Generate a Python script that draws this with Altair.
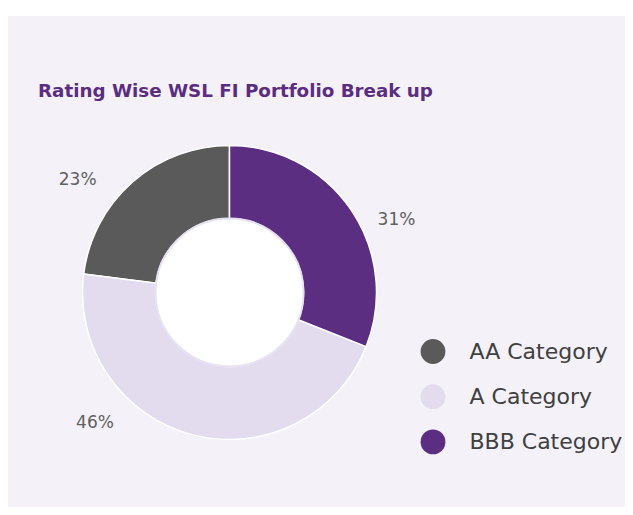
import altair as alt
import pandas as pd

# ---- data ----
categories = ["AA Category", "A Category", "BBB Category"]
shares = [23, 46, 31]
share_labels = ["23%", "46%", "31%"]
pie_order = ["BBB Category", "A Category", "AA Category"]  # clockwise from 12 o'clock
colors = ["#5a5a5a", "#e2dcee", "#5b2e82"]

df = pd.DataFrame({"category": categories, "share": shares, "label": share_labels})
df["rank"] = [pie_order.index(c) for c in categories]

# ---- layout / style ----
W, H = 617, 491
CX, CY = 221.5, 276.5
R_OUT, R_IN = 147, 74
BG = "#f4f1f8"
FONT = "DejaVu Sans"
# label nudges relative to slice midpoints (style)
nudges = {"BBB Category": (14, 31), "A Category": (-88.5, -49), "AA Category": (-29.5, 26)}

color_enc = alt.Color(
    "category:N",
    scale=alt.Scale(domain=categories, range=colors),
    legend=alt.Legend(
        title=None, orient="none", legendX=412.5, legendY=323,
        symbolType="circle", symbolSize=616, symbolStrokeWidth=0, symbolOpacity=1,
        labelFont=FONT, labelFontSize=22, labelColor="#404040",
        labelOffset=24, rowPadding=20.2, padding=0,
    ),
)

panel = alt.Chart(pd.DataFrame({"k": [0]})).mark_rect(fill=BG).encode(
    x=alt.value(0), x2=alt.value(W), y=alt.value(0), y2=alt.value(H)
)

base = alt.Chart(df)

donut = base.mark_arc(
    outerRadius=R_OUT, innerRadius=R_IN, stroke="white", strokeWidth=1.5, x=CX, y=CY
).encode(
    theta=alt.Theta("share:Q", stack=True),
    color=color_enc,
    order=alt.Order("rank:Q"),
)

hole = alt.Chart(pd.DataFrame({"k": [0]})).mark_arc(
    outerRadius=R_IN, innerRadius=0, fill="white", stroke="#e7e1f1", strokeWidth=2, x=CX, y=CY
).encode(theta=alt.value(0), theta2=alt.value(6.2832))

label_layers = []
for cat, (ndx, ndy) in nudges.items():
    label_layers.append(
        base.transform_calculate(
            txt=f"datum.category === '{cat}' ? datum.label : ''"
        ).mark_text(
            radius=185, x=CX, y=CY, dx=ndx, dy=ndy, font=FONT, fontSize=17,
            color="#606060", align="center", baseline="middle",
        ).encode(
            theta=alt.Theta("share:Q", stack=True),
            order=alt.Order("rank:Q"),
            detail="category:N",
            text="txt:N",
        )
    )

chart = alt.layer(panel, donut, hole, *label_layers).properties(
    width=W,
    height=H,
    padding={"left": 0, "top": 8, "right": 0, "bottom": 0},
    autosize="none",
    background="white",
    title=alt.TitleParams(
        "Rating Wise WSL FI Portfolio Break up",
        anchor="start", frame="group", orient="top", offset=-99, dx=30,
        baseline="alphabetic", font=FONT, fontWeight="bold", fontSize=18.3,
        color="#5b2d82",
    ),
).configure_view(stroke="transparent")

chart.save("out.html", embed_options={"renderer": "svg", "actions": False})
